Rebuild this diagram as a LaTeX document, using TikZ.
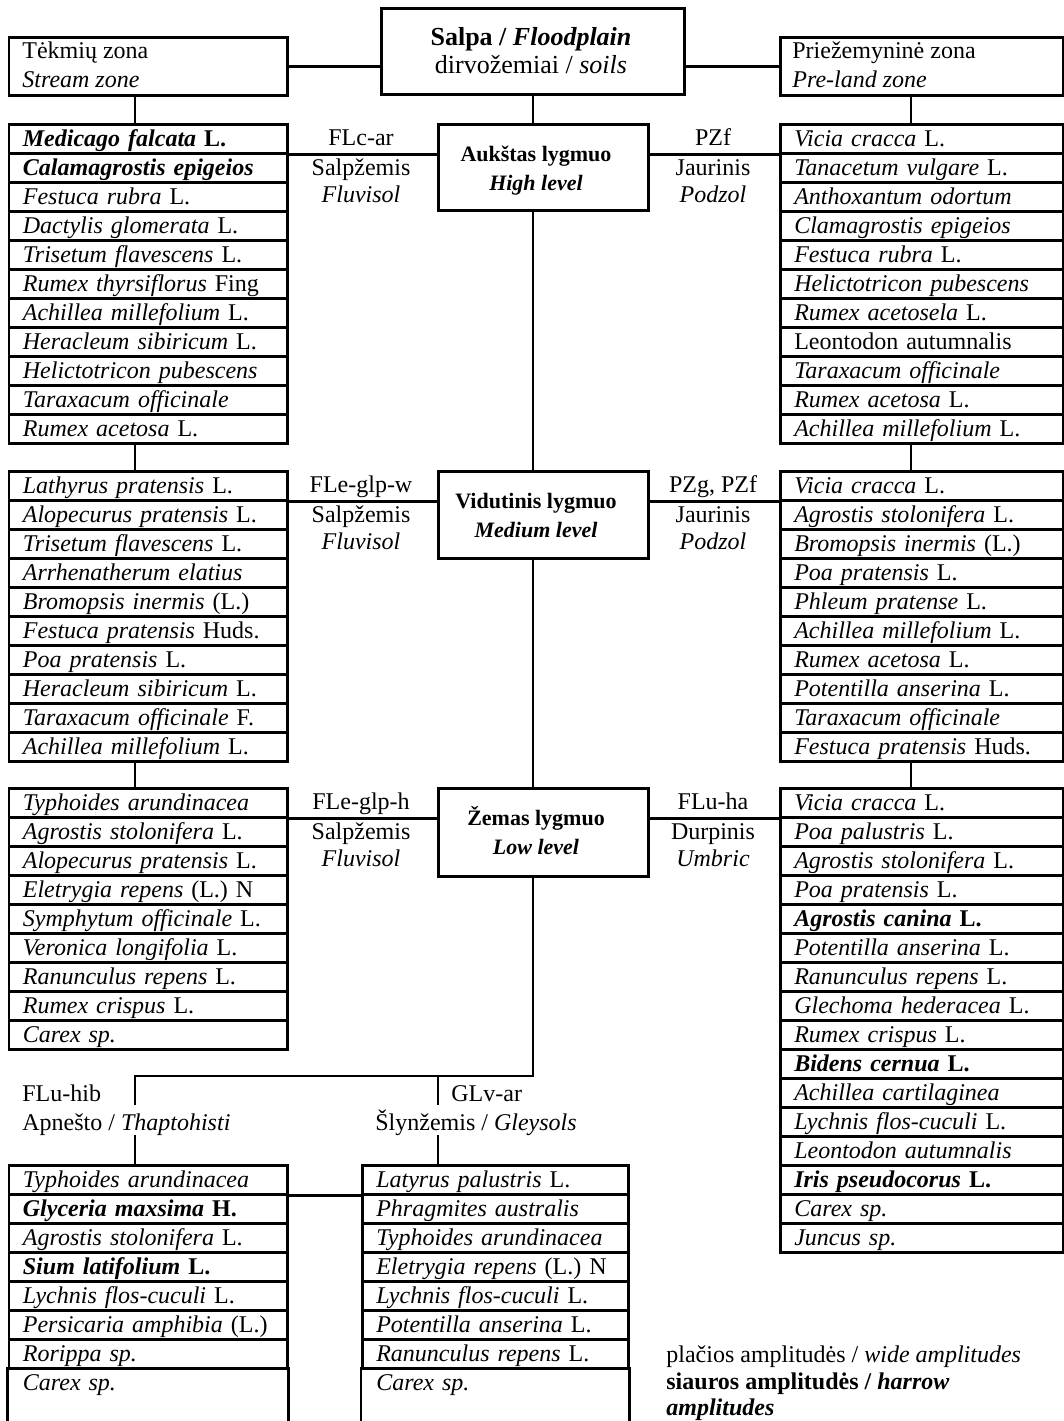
\documentclass[tikz,border=0pt]{standalone}
\usepackage{fontspec}
\setmainfont{Liberation Serif}
\newcommand\Sp[1]{\textit{#1}}
\newcommand\drawlist[5]{%
  \foreach \t [count=\i] in {#5} {
    \node[rowbox,text width=#4] (#1-\i) at (#2,{#3+29*(\i-1)}) {\t};
  }}
\begin{document}
\begin{tikzpicture}[x=0.5pt,y=-0.5pt,
  every node/.style={font=\fontsize{12}{14.5}\selectfont},
  ln/.style={line width=1.3pt},
  rowbox/.style={draw,line width=1.3pt,anchor=north west,inner xsep=7pt,inner ysep=0pt,
    minimum height=14.5pt,text height=8pt,text depth=0pt,align=left},
  frame/.style={draw,line width=1.3pt,anchor=north west,inner sep=0pt},
  txt/.style={inner sep=0pt,text height=8pt,text depth=0pt},
  lvl/.style={txt,font=\fontsize{11}{13}\selectfont\bfseries},
]
\useasboundingbox (0,0) rectangle (1064,1421);
% helper coordinates
\coordinate (sx) at (135,0);
\coordinate (px) at (911,0);
\coordinate (cx) at (533,0);
\coordinate (gx) at (438,0);
\coordinate (hl) at (0,1076);
\coordinate (g1) at (0,1105);
\coordinate (g2) at (0,1135);
\coordinate (pgbot) at (0,1421);

% top boxes
\node[frame,minimum width=139.2pt,minimum height=29pt] (stream) at (7.6,36) {};
\node[txt,anchor=west] (stream1) at (22,50) {Tėkmių zona};
\node[txt,anchor=west] (stream2) at (22,79) {\textit{Stream zone}};
\node[frame,minimum width=151.5pt,minimum height=43pt] (salpa) at (380,7) {};
\node[txt,font=\fontsize{13}{15}\selectfont\bfseries] (salpa1) at (531,37) {Salpa / \textit{Floodplain}};
\node[txt,font=\fontsize{13}{15}\selectfont] (salpa2) at (531,65) {dirvožemiai / \textit{soils}};
\node[frame,minimum width=141.5pt,minimum height=29pt] (pre) at (779,36) {};
\node[txt,anchor=west] (pre1) at (792,50) {Priežemyninė zona};
\node[txt,anchor=west] (pre2) at (792,79) {\textit{Pre-land zone}};

% level boxes
\node[frame,minimum width=105pt,minimum height=43pt] (A) at (437,123) {};
\node[lvl] (A1) at (536,153) {Aukštas lygmuo};
\node[lvl] (A2) at (536,182) {\textit{High level}};
\node[frame,minimum width=105pt,minimum height=43.5pt] (V) at (437,470) {};
\node[lvl] (V1) at (536,500) {Vidutinis lygmuo};
\node[lvl] (V2) at (536,529) {\textit{Medium level}};
\node[frame,minimum width=105pt,minimum height=44pt] (Z) at (437,787) {};
\node[lvl] (Z1) at (536,817) {Žemas lygmuo};
\node[lvl] (Z2) at (536,846) {\textit{Low level}};

% lists
\drawlist{L1}{7.6}{123}{125.2pt}{{\textbf{\Sp{Medicago falcata} L.}},{\textbf{\Sp{Calamagrostis epigeios}}},{\Sp{Festuca rubra} L.},{\Sp{Dactylis glomerata} L.},{\Sp{Trisetum flavescens} L.},{\Sp{Rumex thyrsiflorus} Fing},{\Sp{Achillea millefolium} L.},{\Sp{Heracleum sibiricum} L.},{\Sp{Helictotricon pubescens}},{\Sp{Taraxacum officinale}},{\Sp{Rumex acetosa} L.}}
\drawlist{R1}{779}{123}{127.5pt}{{\Sp{Vicia cracca} L.},{\Sp{Tanacetum vulgare} L.},{\Sp{Anthoxantum odortum}},{\Sp{Clamagrostis epigeios}},{\Sp{Festuca rubra} L.},{\Sp{Helictotricon pubescens}},{\Sp{Rumex acetosela} L.},{Leontodon autumnalis},{\Sp{Taraxacum officinale}},{\Sp{Rumex acetosa} L.},{\Sp{Achillea millefolium} L.}}
\drawlist{L2}{7.6}{470}{125.2pt}{{\Sp{Lathyrus pratensis} L.},{\Sp{Alopecurus pratensis} L.},{\Sp{Trisetum flavescens} L.},{\Sp{Arrhenatherum elatius}},{\Sp{Bromopsis inermis} (L.)},{\Sp{Festuca pratensis} Huds.},{\Sp{Poa pratensis} L.},{\Sp{Heracleum sibiricum} L.},{\Sp{Taraxacum officinale} F.},{\Sp{Achillea millefolium} L.}}
\drawlist{R2}{779}{470}{127.5pt}{{\Sp{Vicia cracca} L.},{\Sp{Agrostis stolonifera} L.},{\Sp{Bromopsis inermis} (L.)},{\Sp{Poa pratensis} L.},{\Sp{Phleum pratense} L.},{\Sp{Achillea millefolium} L.},{\Sp{Rumex acetosa} L.},{\Sp{Potentilla anserina} L.},{\Sp{Taraxacum officinale}},{\Sp{Festuca pratensis} Huds.}}
\drawlist{L3}{7.6}{787}{125.2pt}{{\Sp{Typhoides arundinacea}},{\Sp{Agrostis stolonifera} L.},{\Sp{Alopecurus pratensis} L.},{\Sp{Eletrygia repens} (L.) N},{\Sp{Symphytum officinale} L.},{\Sp{Veronica longifolia} L.},{\Sp{Ranunculus repens} L.},{\Sp{Rumex crispus} L.},{\Sp{Carex sp.}}}
\drawlist{R3}{779}{787}{127.5pt}{{\Sp{Vicia cracca} L.},{\Sp{Poa palustris} L.},{\Sp{Agrostis stolonifera} L.},{\Sp{Poa pratensis} L.},{\textbf{\Sp{Agrostis canina} L.}},{\Sp{Potentilla anserina} L.},{\Sp{Ranunculus repens} L.},{\Sp{Glechoma hederacea} L.},{\Sp{Rumex crispus} L.},{\textbf{\Sp{Bidens cernua} L.}},{\Sp{Achillea cartilaginea}},{\Sp{Lychnis flos-cuculi} L.},{\Sp{Leontodon autumnalis}},{\textbf{\Sp{Iris pseudocorus} L.}},{\Sp{Carex sp.}},{\Sp{Juncus sp.}}}
\drawlist{B1}{7.6}{1164}{125.2pt}{{\Sp{Typhoides arundinacea}},{\textbf{\Sp{Glyceria maxsima} H.}},{\Sp{Agrostis stolonifera} L.},{\textbf{\Sp{Sium latifolium} L.}},{\Sp{Lychnis flos-cuculi} L.},{\Sp{Persicaria amphibia} (L.)},{\Sp{Rorippa sp.}}}
\node[rowbox,draw=none,text width=125.2pt] (B1-8) at (7.6,1367) {\Sp{Carex sp.}};
\drawlist{B2}{361}{1164}{119pt}{{\Sp{Latyrus palustris} L.},{\Sp{Phragmites australis}},{\Sp{Typhoides arundinacea}},{\Sp{Eletrygia repens} (L.) N},{\Sp{Lychnis flos-cuculi} L.},{\Sp{Potentilla anserina} L.},{\Sp{Ranunculus repens} L.}}
\node[rowbox,draw=none,text width=119pt] (B2-8) at (361,1367) {\Sp{Carex sp.}};
\draw[ln] (B1-8.north west) -- (B1-8.north west |- pgbot);
\draw[ln] (B1-8.north east) -- (B1-8.north east |- pgbot);
\draw[ln] (B2-8.north west) -- (B2-8.north west |- pgbot);
\draw[ln] (B2-8.north east) -- (B2-8.north east |- pgbot);

% soil labels
\node[txt] (la1) at (361,137) {FLc-ar};
\node[txt] (la2) at (361,167) {Salpžemis};
\node[txt] (la3) at (361,194) {\textit{Fluvisol}};
\node[txt] (ra1) at (713,137) {PZf};
\node[txt] (ra2) at (713,167) {Jaurinis};
\node[txt] (ra3) at (713,194) {\textit{Podzol}};
\node[txt] (lb1) at (361,484) {FLe-glp-w};
\node[txt] (lb2) at (361,514) {Salpžemis};
\node[txt] (lb3) at (361,541) {\textit{Fluvisol}};
\node[txt] (rb1) at (713,484) {PZg, PZf};
\node[txt] (rb2) at (713,514) {Jaurinis};
\node[txt] (rb3) at (713,541) {\textit{Podzol}};
\node[txt] (lc1) at (361,801) {FLe-glp-h};
\node[txt] (lc2) at (361,831) {Salpžemis};
\node[txt] (lc3) at (361,858) {\textit{Fluvisol}};
\node[txt] (rc1) at (713,801) {FLu-ha};
\node[txt] (rc2) at (713,831) {Durpinis};
\node[txt] (rc3) at (713,858) {\textit{Umbric}};
\node[txt,anchor=west] (ld1) at (22,1093) {FLu-hib};
\node[txt,anchor=west] (ld2) at (22,1122) {Apnešto / \textit{Thaptohisti}};
\node[txt,anchor=west] (md1) at (451,1093) {GLv-ar};
\node[txt,anchor=west] (md2) at (375,1122) {Šlynžemis / \textit{Gleysols}};

% legend
\node[txt,anchor=west] (leg1) at (666,1354) {plačios amplitudės / \textit{wide amplitudes}};
\node[txt,anchor=west] (leg2) at (666,1381) {\textbf{siauros amplitudės / \textit{harrow}}};
\node[txt,anchor=west] (leg3) at (666,1407) {\textbf{\textit{amplitudes}}};

% connectors
\draw[ln] (stream.east) -- (salpa.west |- stream.east);
\draw[ln] (salpa.east |- pre.west) -- (pre.west);
\draw[ln] (stream.south -| sx) -- (L1-1.north -| sx);
\draw[ln] (pre.south -| px) -- (R1-1.north -| px);
\draw[ln] (L1-11.south -| sx) -- (L2-1.north -| sx);
\draw[ln] (L2-10.south -| sx) -- (L3-1.north -| sx);
\draw[ln] (R1-11.south -| px) -- (R2-1.north -| px);
\draw[ln] (R2-10.south -| px) -- (R3-1.north -| px);
\draw[ln] (salpa.south -| cx) -- (A.north -| cx);
\draw[ln] (A.south -| cx) -- (V.north -| cx);
\draw[ln] (V.south -| cx) -- (Z.north -| cx);
\draw[ln] (L1-1.south east) -- (A.west |- L1-1.south east);
\draw[ln] (A.east |- R1-1.south west) -- (R1-1.south west);
\draw[ln] (L2-1.south east) -- (V.west |- L2-1.south east);
\draw[ln] (V.east |- R2-1.south west) -- (R2-1.south west);
\draw[ln] (L3-1.south east) -- (Z.west |- L3-1.south east);
\draw[ln] (Z.east |- R3-1.south west) -- (R3-1.south west);
\draw[ln] (Z.south -| cx) -- (cx |- hl) -- (sx |- hl) -- (sx |- g1);
\draw[ln] (sx |- g2) -- (B1-1.north -| sx);
\draw[ln] (gx |- hl) -- (gx |- g1);
\draw[ln] (gx |- g2) -- (B2-1.north -| gx);
\draw[ln] (B1-1.south east) -- (B2-1.south west);
\end{tikzpicture}
\end{document}
